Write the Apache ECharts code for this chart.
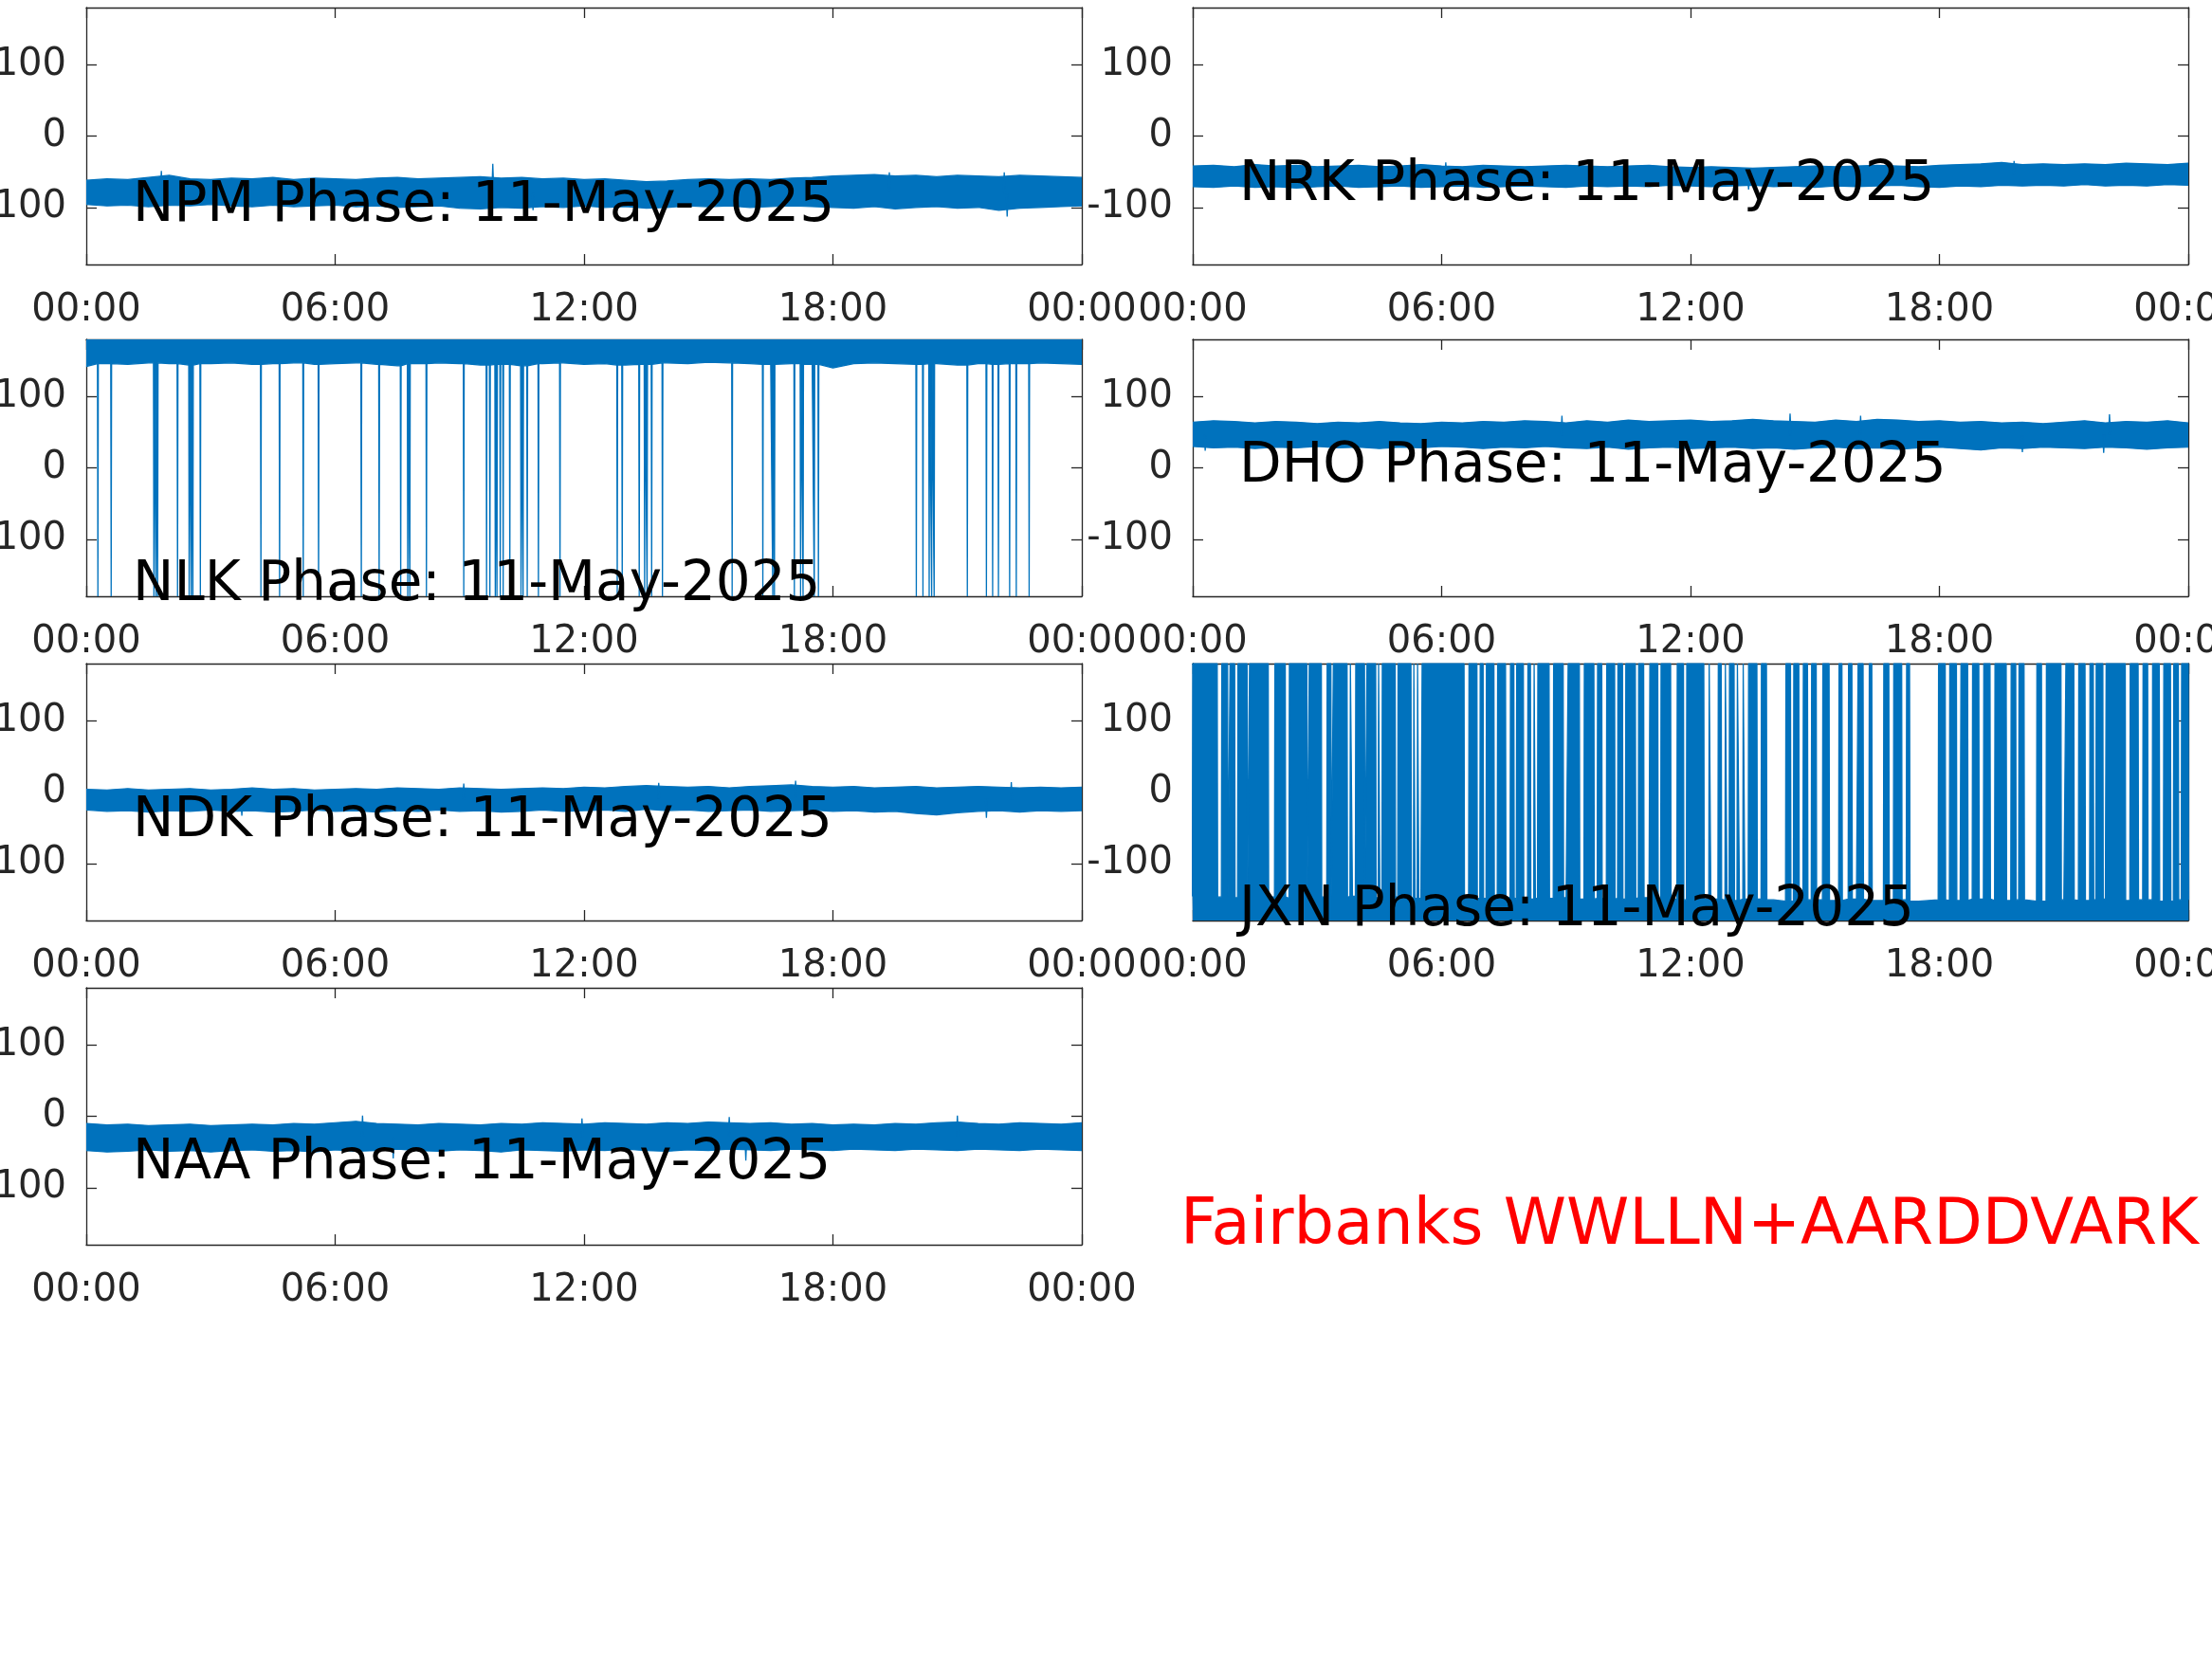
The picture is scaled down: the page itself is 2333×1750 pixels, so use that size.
<!DOCTYPE html>
<html>
<head>
<meta charset="utf-8">
<script src="https://cdn.jsdelivr.net/npm/echarts@6/dist/echarts.min.js"></script>
<style>
html,body{margin:0;padding:0;background:#fff;}
#chart{width:2333px;height:1750px;}
</style>
</head>
<body>
<div id="chart"></div>
<script>
// ---------------- DATA ----------------
const dateLabel = '11-May-2025';
const xTickLabels = ['00:00', '06:00', '12:00', '18:00', '00:00'];
const yTickValues = [-100, 0, 100];

// envelope sample times (hours UT)
const envHours = [0,0.5,1,1.5,2,2.5,3,3.5,4,4.5,5,5.5,6,6.5,7,7.5,8,8.5,9,9.5,10,10.5,11,11.5,12,
  12.5,13,13.5,14,14.5,15,15.5,16,16.5,17,17.5,18,18.5,19,19.5,20,20.5,21,21.5,22,22.5,23,23.5,24];

// NPM phase band (upper / lower envelope, degrees) and isolated spikes [hour, degrees]
const npmHi = [-62,-60,-61,-58,-55,-60,-61,-59,-60,-58,-61,-59,-60,-61,-59,-58,-60,-59,-58,-57,-59,-58,-60,-59,-61,
  -60,-62,-64,-63,-61,-60,-61,-60,-61,-59,-58,-56,-55,-54,-56,-55,-57,-55,-56,-57,-55,-56,-57,-58];
const npmLo = [-96,-98,-97,-99,-97,-98,-96,-98,-99,-97,-99,-98,-97,-99,-98,-100,-99,-98,-101,-102,-100,-101,-99,-100,-98,
  -100,-99,-101,-100,-98,-99,-98,-100,-99,-98,-99,-100,-101,-99,-102,-100,-99,-101,-100,-104,-101,-100,-99,-98];
const npmSpikes = [[1.81,-49],[9.80,-39],[19.36,-51],[22.13,-51],[22.20,-113],[10.77,-104]];

// NRK
const nrkHi = [-42,-41,-43,-40,-42,-41,-43,-42,-41,-43,-42,-40,-42,-43,-41,-42,-43,-42,-41,-42,-43,-42,-41,-43,-44,
  -43,-44,-45,-44,-43,-42,-43,-42,-41,-42,-43,-41,-40,-39,-37,-40,-39,-40,-39,-40,-38,-39,-40,-38];
const nrkLo = [-71,-72,-70,-72,-71,-73,-71,-70,-72,-71,-70,-72,-71,-70,-72,-71,-70,-71,-72,-70,-71,-70,-71,-69,-70,
  -71,-70,-69,-71,-70,-72,-70,-71,-70,-69,-71,-72,-70,-71,-69,-70,-69,-70,-68,-70,-69,-70,-68,-69];
const nrkSpikes = [[19.80,-35],[1.95,-76],[6.10,-37],[13.40,-75]];

// NLK (band near +180, lower envelope) and times where the phase wraps to -180
const nlkLo = [142,146,145,147,146,144,146,147,145,146,147,145,146,147,145,143,146,147,146,144,145,143,146,147,145,
  146,144,145,147,146,148,147,146,145,146,145,140,146,147,146,145,146,144,146,145,146,147,146,145];
const nlkWrapHours = [0.28,0.60,1.63,1.68,1.72,2.20,2.48,2.53,2.57,2.75,4.21,4.66,5.23,5.60,6.63,7.06,7.58,7.75,7.80,8.20,
  9.10,9.65,9.73,9.86,9.90,9.98,10.05,10.21,10.48,10.53,10.63,10.90,11.42,12.80,12.92,13.33,13.46,13.52,13.63,13.89,
  15.57,16.31,16.55,16.59,17.07,17.22,17.28,17.55,17.65,20.01,20.17,20.32,20.38,20.44,21.24,21.70,21.85,21.99,22.26,22.42,22.73];

// DHO
const dhoHi = [64,66,65,63,65,64,62,64,63,65,63,62,64,63,65,64,66,65,63,66,64,67,65,66,67,
  65,66,68,66,65,64,67,65,68,67,65,66,64,65,63,64,62,64,66,63,65,64,66,63];
const dhoLo = [30,28,29,27,29,28,30,28,29,27,29,28,30,29,27,29,28,30,28,27,29,26,28,29,27,
  28,29,27,28,26,28,29,27,28,26,28,29,27,25,28,27,29,28,27,29,28,26,28,29];
const dhoSpikes = [[14.40,76],[22.10,75],[16.10,73],[8.90,73],[20.00,22],[21.96,21],[0.30,24]];

// NDK
const ndkHi = [4,3,5,3,4,5,3,4,6,4,5,3,4,5,4,6,5,4,6,5,4,5,6,5,7,
  6,8,9,8,7,8,6,8,9,10,8,7,8,6,7,8,6,7,8,7,6,7,6,7];
const ndkLo = [-25,-27,-26,-28,-26,-27,-25,-27,-26,-28,-27,-25,-27,-26,-28,-26,-27,-25,-27,-26,-28,-27,-25,-27,-26,
  -25,-27,-24,-26,-25,-27,-26,-25,-27,-26,-25,-27,-26,-28,-27,-30,-32,-29,-27,-26,-28,-26,-27,-26];
const ndkSpikes = [[17.10,16],[22.30,14],[9.10,12],[13.80,13],[21.70,-36],[3.75,-33]];

// JXN (band near -180, upper envelope) and intervals where the phase keeps wrapping to +180
const jxnHi = [-146,-147,-148,-146,-147,-149,-147,-148,-146,-148,-147,-149,-148,-147,-149,-148,-150,-149,-148,-150,-149,-150,-148,-150,-151,
  -150,-152,-150,-151,-153,-151,-152,-150,-152,-151,-153,-151,-152,-150,-152,-151,-153,-151,-152,-150,-152,-151,-153,-151];
const jxnWrapIntervals = [
  [0.00,0.59],[0.70,0.84],[0.90,1.01],[1.09,1.31],[1.37,1.82],[1.98,2.23],[2.33,2.75],[2.81,3.10],[3.24,3.33],
  [3.39,3.72],[3.80,3.84],[3.93,4.14],[4.20,4.41],[4.48,4.50],[4.57,4.88],[4.95,5.26],[5.33,5.35],[5.42,5.44],
  [5.53,6.54],[6.66,6.85],[6.93,7.00],[7.08,7.26],[7.35,7.54],[7.66,7.74],[7.81,7.97],[8.08,8.14],[8.23,8.25],
  [8.32,8.59],[8.70,8.93],[9.05,9.32],[9.44,9.67],[9.76,9.86],[9.98,10.17],[10.25,10.36],[10.44,10.67],[10.75,10.87],
  [11.02,11.21],[11.29,11.52],[11.68,11.83],[11.91,12.32],[12.45,12.48],[12.67,12.74],[12.84,12.87],[12.94,13.05],
  [13.13,13.17],[13.27,13.30],[13.40,13.60],
  [13.71,13.83],[14.30,14.41],[14.49,14.61],[14.72,14.82],[14.92,15.03],[15.19,15.34],[15.58,15.65],[15.81,15.89],
  [16.04,16.16],[16.31,16.37],[16.66,16.78],[16.90,17.09],[17.21,17.28],[17.98,18.14],[18.25,18.41],[18.52,18.68],
  [18.80,18.95],[19.07,19.22],[19.34,19.61],[19.73,19.84],[19.92,20.04],[20.35,20.46],[20.58,20.93],[21.05,21.24],
  [21.36,21.51],[21.63,21.71],[21.78,21.94],[22.02,22.48],[22.60,22.79],[22.91,23.02],[23.14,23.30],[23.41,23.57],
  [23.65,23.76],[23.84,24.00]];

// NAA
const naaHi = [-10,-12,-11,-13,-12,-11,-13,-12,-11,-12,-10,-11,-9,-7,-10,-11,-12,-10,-11,-12,-10,-11,-9,-10,-11,
  -9,-10,-11,-9,-10,-8,-9,-10,-9,-11,-10,-12,-11,-12,-10,-11,-9,-8,-10,-11,-9,-10,-11,-9];
const naaLo = [-48,-50,-49,-47,-49,-48,-50,-48,-47,-49,-48,-50,-47,-49,-48,-46,-48,-49,-47,-48,-50,-47,-48,-49,-47,
  -48,-46,-48,-49,-47,-48,-46,-47,-48,-46,-47,-48,-46,-47,-48,-46,-47,-48,-46,-47,-48,-46,-47,-48];
const naaSpikes = [[6.66,1],[21.00,1],[15.50,-1],[11.95,-3],[15.90,-62],[7.40,-59]];

// station label anchor (y in degrees)
const stationNames = ['NPM', 'NRK', 'NLK', 'DHO', 'NDK', 'JXN', 'NAA'];
const labelPhase = [-90, -61, -156, 10, -32, -157, -58];
const footerText = 'Fairbanks WWLLN+AARDDVARK';

// ---------------- LAYOUT ----------------
const BLUE = '#0072BD';
const AX = '#262626';
const FONT = 'DejaVu Sans';
const colLeft = [91, 1258];
const rowTop = [8, 358, 700, 1042];
const GW = 1050, GH = 271;
const panelPos = [[0,0],[1,0],[0,1],[1,1],[0,2],[1,2],[0,3]]; // [col,row]

const grids = [], xAxes = [], yAxes = [], series = [], graphics = [];

panelPos.forEach(([c, r], i) => {
  grids.push({left: colLeft[c], top: rowTop[r], width: GW, height: GH, containLabel: false, outerBoundsMode: 'none'});
  const lineS = {color: AX, width: 1.3};
  const tickS = {show: true, inside: true, length: 11, lineStyle: {color: AX, width: 1.3}};
  xAxes.push({
    type: 'value', gridIndex: i, min: 0, max: 24, interval: 6, position: 'bottom',
    axisLine: {show: true, onZero: false, lineStyle: lineS}, axisTick: tickS, splitLine: {show: false},
    axisLabel: {show: true, margin: 29, color: AX, fontSize: 40, fontFamily: FONT,
      showMinLabel: true, showMaxLabel: true, hideOverlap: false,
      formatter: v => xTickLabels[Math.round(v / 6)]}
  });
  xAxes.push({
    type: 'value', gridIndex: i, min: 0, max: 24, interval: 6, position: 'top',
    axisLine: {show: true, onZero: false, lineStyle: lineS}, axisTick: tickS, splitLine: {show: false},
    axisLabel: {show: false}
  });
  yAxes.push({
    type: 'value', gridIndex: i, min: -180, max: 180, position: 'left',
    axisLine: {show: true, onZero: false, lineStyle: lineS},
    axisTick: Object.assign({customValues: yTickValues}, tickS), splitLine: {show: false},
    axisLabel: {show: true, margin: 21, color: AX, fontSize: 40, fontFamily: FONT, customValues: yTickValues}
  });
  yAxes.push({
    type: 'value', gridIndex: i, min: -180, max: 180, position: 'right',
    axisLine: {show: true, onZero: false, lineStyle: lineS},
    axisTick: Object.assign({customValues: yTickValues}, tickS), splitLine: {show: false},
    axisLabel: {show: false}
  });

  // station label
  const px = colLeft[c] + 1.12 / 24 * GW;
  const py = rowTop[r] + (180 - labelPhase[i]) / 360 * GH + 7;
  graphics.push({type: 'text', x: px, y: py, z: 100,
    style: {text: stationNames[i] + ' Phase: ' + dateLabel, fill: '#000', fontSize: 58, fontFamily: FONT,
      align: 'left', verticalAlign: 'middle'}});
});

const baseLine = {type: 'line', showSymbol: false, symbol: 'none', silent: true, animation: false, clip: true, sampling: null};

function nearestEnv(arr, h) {
  return arr[Math.max(0, Math.min(arr.length - 1, Math.round(h * 2)))];
}

// steady band drawn as a polygon between the two envelopes, plus isolated spikes
function bandSeries(idx, lo, hi, spikes) {
  series.push({
    type: 'custom', xAxisIndex: 2*idx, yAxisIndex: 2*idx, silent: true, animation: false, clip: true,
    data: envHours.map((h, k) => [h, lo[k], hi[k]]),
    encode: {x: 0, y: [1, 2]},
    renderItem: (params, api) => {
      if (params.dataIndex !== 0) return;
      const pts = [];
      envHours.forEach((h, k) => pts.push(api.coord([h, hi[k]])));
      for (let k = envHours.length - 1; k >= 0; k--) pts.push(api.coord([envHours[k], lo[k]]));
      return {type: 'polygon', shape: {points: pts}, style: {fill: BLUE, stroke: BLUE, lineWidth: 1.2, lineJoin: 'miter'}};
    }
  });
  series.push({
    type: 'custom', xAxisIndex: 2*idx, yAxisIndex: 2*idx, silent: true, animation: false, clip: true,
    data: spikes,
    encode: {x: 0, y: 1},
    renderItem: (params, api) => {
      const h = api.value(0), v = api.value(1);
      const mid = (nearestEnv(hi, h) + nearestEnv(lo, h)) / 2;
      const p0 = api.coord([h, mid]), p1 = api.coord([h, v]);
      return {type: 'polyline', shape: {points: [[p0[0] - 1, p0[1]], p1, [p0[0] + 1, p0[1]]]},
        style: {stroke: BLUE, lineWidth: 1.3, fill: BLUE}};
    }
  });
}

// band near +180 with wraps down to -180
function wrapDownSeries(idx, lo, wraps) {
  const eps = 0.01;
  const pts = [];
  envHours.forEach((h, k) => {
    if (!wraps.some(s => Math.abs(s - h) <= eps)) pts.push([h, lo[k]]);
  });
  wraps.forEach(s => {
    const v = nearestEnv(lo, s);
    pts.push([s - eps, v], [s, -180], [s + eps, v]);
  });
  pts.sort((a, b) => a[0] - b[0]);
  series.push(Object.assign({}, baseLine, {xAxisIndex: 2*idx, yAxisIndex: 2*idx, data: pts,
    lineStyle: {color: BLUE, width: 1.3}, areaStyle: {color: BLUE, opacity: 1, origin: 'end'}}));
}

// band near -180 with wraps up to +180
function wrapUpSeries(idx, hi, intervals) {
  const eps = 0.01;
  const pts = [];
  envHours.forEach((h, k) => {
    if (!intervals.some(([a, b]) => h >= a - eps && h <= b + eps)) pts.push([h, hi[k]]);
  });
  intervals.forEach(([a, b]) => {
    pts.push([a - eps, nearestEnv(hi, a)], [a, 180], [b, 180], [b + eps, nearestEnv(hi, b)]);
  });
  pts.sort((p, q) => p[0] - q[0]);
  series.push(Object.assign({}, baseLine, {xAxisIndex: 2*idx, yAxisIndex: 2*idx, data: pts,
    lineStyle: {color: BLUE, width: 1.3}, areaStyle: {color: BLUE, opacity: 1, origin: 'start'}}));
}

bandSeries(0, npmLo, npmHi, npmSpikes);
bandSeries(1, nrkLo, nrkHi, nrkSpikes);
wrapDownSeries(2, nlkLo, nlkWrapHours);
bandSeries(3, dhoLo, dhoHi, dhoSpikes);
bandSeries(4, ndkLo, ndkHi, ndkSpikes);
wrapUpSeries(5, jxnHi, jxnWrapIntervals);
bandSeries(6, naaLo, naaHi, naaSpikes);

graphics.push({type: 'text', x: 1245, y: 1295, z: 100,
  style: {text: footerText, fill: '#FF0000', fontSize: 67, fontFamily: FONT, align: 'left', verticalAlign: 'middle'}});

const chart = echarts.init(document.getElementById('chart'), null, {renderer: 'canvas'});
chart.setOption({
  animation: false,
  backgroundColor: '#fff',
  grid: grids,
  xAxis: xAxes,
  yAxis: yAxes,
  series: series,
  graphic: graphics
});
</script>
</body>
</html>
